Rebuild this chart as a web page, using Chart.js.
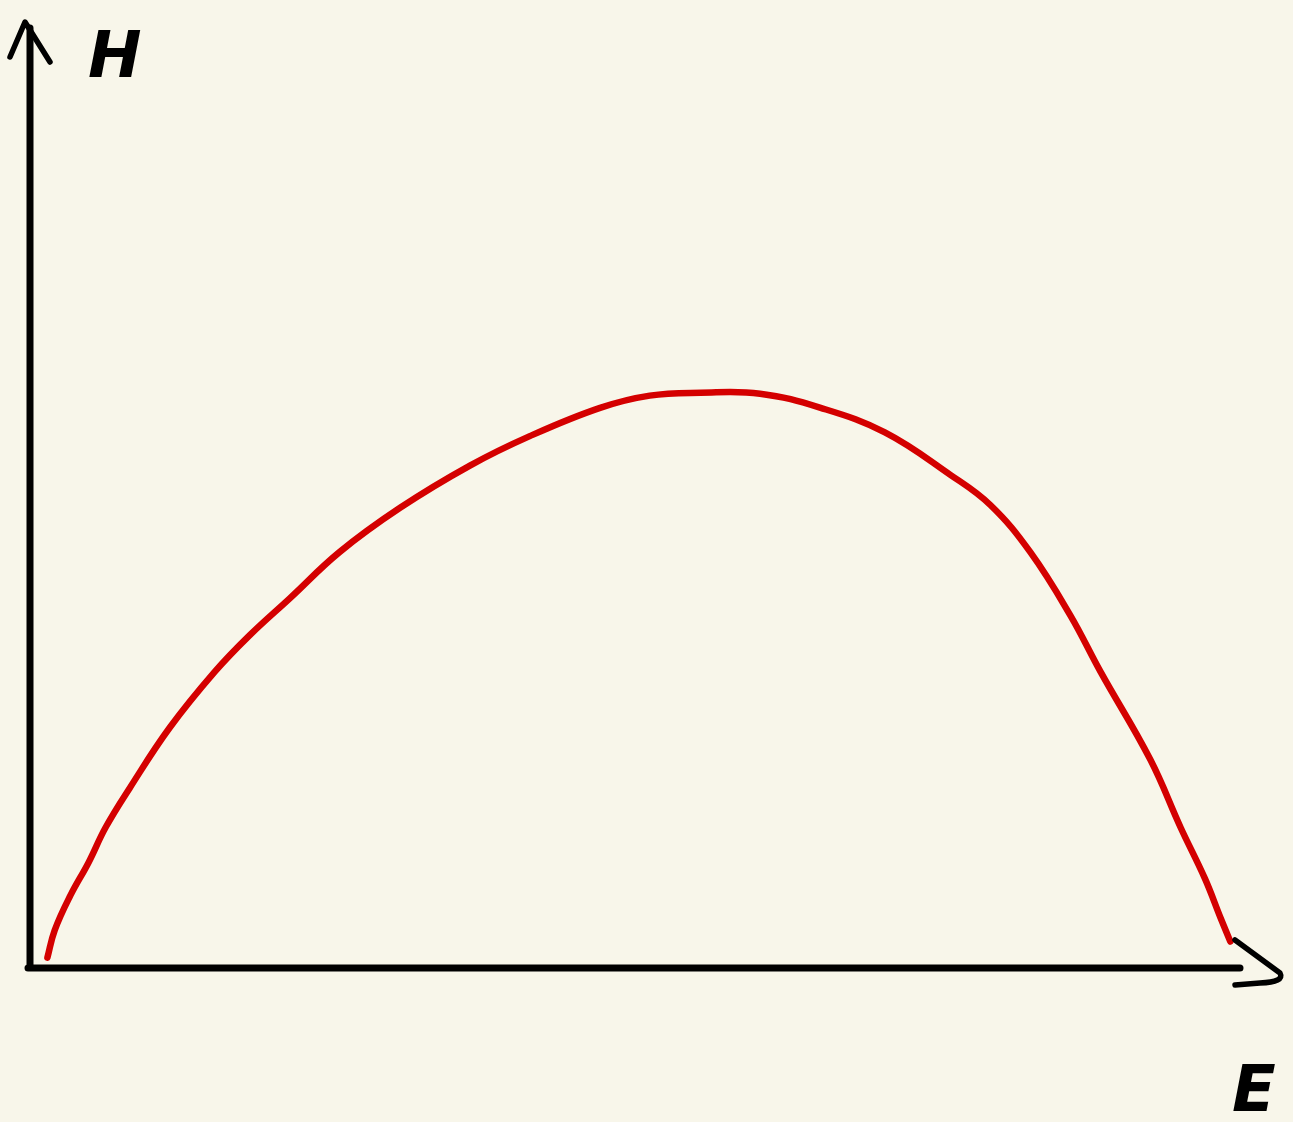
<!DOCTYPE html>
<html>
<head>
<meta charset="utf-8">
<script src="https://cdn.jsdelivr.net/npm/chart.js@4.4.1/dist/chart.umd.min.js"></script>
<style>
  html, body { margin: 0; padding: 0; background: #f8f6ea; }
  #wrap { width: 1293px; height: 1122px; }
</style>
</head>
<body>
<div id="wrap"><canvas id="chart" width="1293" height="1122"></canvas></div>
<script>
// E (x) and H (y), both on a 0-100 scale
const eValues = [1.6, 2.2, 3.5, 5.0, 6.4, 8.4, 11.7, 15.4, 18.3, 21.6, 25.7, 30.7, 36.5, 41.4, 47.2, 51.3, 55.5, 60.4, 65.4, 70.7, 76.1, 79.4, 82.7, 86.0, 88.5, 92.6, 95.1, 97.1, 98.4, 99.2];
const hValues = [1.1, 4.0, 7.7, 11.2, 14.9, 19.1, 25.5, 31.4, 35.3, 39.2, 44.1, 48.8, 53.3, 56.4, 59.4, 60.7, 61.0, 60.9, 59.4, 56.8, 52.3, 49.1, 44.1, 37.4, 31.4, 22.1, 14.9, 9.5, 5.3, 2.8];
const xLabel = 'E';
const yLabel = 'H';

const sketchAxes = {
    id: 'sketchAxes',
    beforeDraw(chart) {
        const c = chart.ctx;
        c.save();
        c.fillStyle = '#f8f6ea';
        c.fillRect(0, 0, chart.width, chart.height);
        c.restore();
    },
    afterDatasetsDraw(chart) {
        const c = chart.ctx;
        const a = chart.chartArea;
        c.save();
        c.strokeStyle = '#000';
        c.lineCap = 'round';
        c.lineJoin = 'round';
        c.lineWidth = 7;
        // axes
        c.beginPath();
        c.moveTo(a.left + 2, a.bottom);
        c.lineTo(a.left + 2, a.top + 3);
        c.moveTo(a.left, a.bottom);
        c.lineTo(a.right, a.bottom);
        c.stroke();
        // arrow heads
        c.lineWidth = 5.5;
        c.beginPath();
        c.moveTo(a.left - 18, a.top + 32);
        c.lineTo(a.left - 3, a.top - 3);
        c.lineTo(a.left + 22, a.top + 37);
        c.stroke();
        c.beginPath();
        c.moveTo(a.right - 5, a.bottom - 28);
        c.lineTo(a.right + 40, a.bottom + 5);
        c.quadraticCurveTo(a.right + 45, a.bottom + 14, a.right + 20, a.bottom + 15);
        c.lineTo(a.right - 5, a.bottom + 17);
        c.stroke();
        // labels
        c.fillStyle = '#000';
        c.font = 'italic bold 64px "DejaVu Sans"';
        c.textBaseline = 'alphabetic';
        c.fillText(yLabel, a.left + 60, a.top + 52);
        c.fillText(xLabel, a.right - 8, a.bottom + 143);
        c.restore();
    }
};

new Chart(document.getElementById('chart'), {
    type: 'line',
    data: {
        datasets: [{
            label: 'H vs E',
            data: eValues.map((x, i) => ({ x: x, y: hValues[i] })),
            borderColor: '#d40000',
            borderWidth: 6.5,
            borderCapStyle: 'round',
            pointRadius: 0,
            tension: 0.4,
            fill: false
        }]
    },
    options: {
        responsive: false,
        animation: false,
        layout: { padding: { left: 28, right: 53, top: 25, bottom: 154 } },
        plugins: {
            legend: { display: false },
            tooltip: { enabled: false }
        },
        scales: {
            x: { type: 'linear', min: 0, max: 100, display: false },
            y: { type: 'linear', min: 0, max: 100, display: false }
        }
    },
    plugins: [sketchAxes]
});
</script>
</body>
</html>
